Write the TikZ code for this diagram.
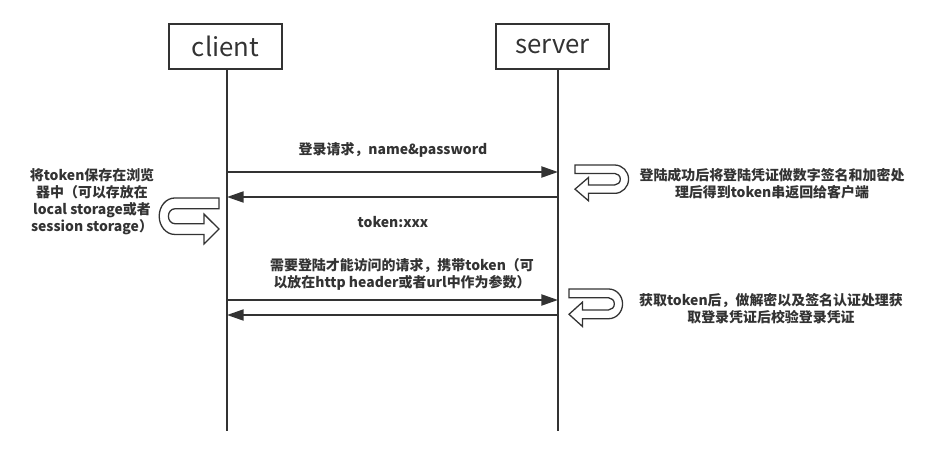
\documentclass[tikz,border=0pt]{standalone}
\usepackage{fontspec}
\setmainfont{Noto Sans CJK SC}
\usetikzlibrary{arrows.meta}
\definecolor{ink}{HTML}{333333}
\tikzset{
  actor/.style={draw=ink, line width=1.3pt, minimum width=3.39cm, minimum height=1.35cm, inner sep=0pt, text=ink, font=\fontsize{22}{26}\selectfont},
  life/.style={draw=ink, line width=1.3pt},
  msg/.style={draw=ink, line width=1.8pt, -{Triangle[length=0.5cm,width=0.33cm]}},
  note/.style={text=ink, align=center, inner sep=0pt, font=\fontsize{11.9}{14.5}\selectfont\bfseries},
  pics/uturn/.style={code={
    \draw[ink, line width=1.1pt, fill=white] (0,0) -- (38.5,0) arc(-90:90:13.5) -- (13,27) -- (13,34) -- (0,23) -- (13,12) -- (13,19) -- (38.5,19) arc(90:-90:5.5) -- (0,8) -- cycle;
  }}
}
\begin{document}
\begin{tikzpicture}[x=0.03cm, y=-0.03cm]
	\useasboundingbox (0,0) rectangle (929,456);
	% actors and lifelines
	\node[actor] (client) at (225.5,46.5) {client};
	\node[actor] (server) at (552.5,46.5) {server};
	\coordinate (cbot) at (227,431);
	\coordinate (sbot) at (558,431);
	\draw[life] (client.south -| cbot) -- (cbot);
	\draw[life] (server.south -| sbot) -- (sbot);
	% login
	\coordinate (c1) at (227,172);
	\coordinate (s1) at (558,172);
	\coordinate (c2) at (227,197);
	\coordinate (s2) at (558,197);
	\draw[msg] (c1) -- (s1);
	\draw[msg] (s2) -- (c2);
	\node[note] (req) at (393,150) {登录请求，name\&password};
	\node[note] (tok) at (393,222) {token:xxx};
	\pic[xscale=1.03, yscale=1.05] (signturn) at (575,165) {uturn};
	\node[note] (sign) at (772,184) {登陆成功后将登陆凭证做数字签名和加密处\\理后得到token串返回给客户端};
	\pic[xscale=-1.15, yscale=1.35] (keepturn) at (219,198) {uturn};
	\node[note] (keep) at (92,202) {将token保存在浏览\\器中（可以存放在\\local storage或者\\session storage）};
	% later requests
	\coordinate (c3) at (227,300);
	\coordinate (s3) at (558,300);
	\coordinate (c4) at (227,315);
	\coordinate (s4) at (558,315);
	\draw[msg] (c3) -- (s3);
	\draw[msg] (s4) -- (c4);
	\node[note] (call) at (402,274) {需要登陆才能访问的请求，携带token（可\\以放在http header或者url中作为参数）};
	\pic[xscale=1.03, yscale=1.1] (checkturn) at (569,289) {uturn};
	\node[note] (check) at (771,309) {获取token后，做解密以及签名认证处理获\\取登录凭证后校验登录凭证};
\end{tikzpicture}
\end{document}
